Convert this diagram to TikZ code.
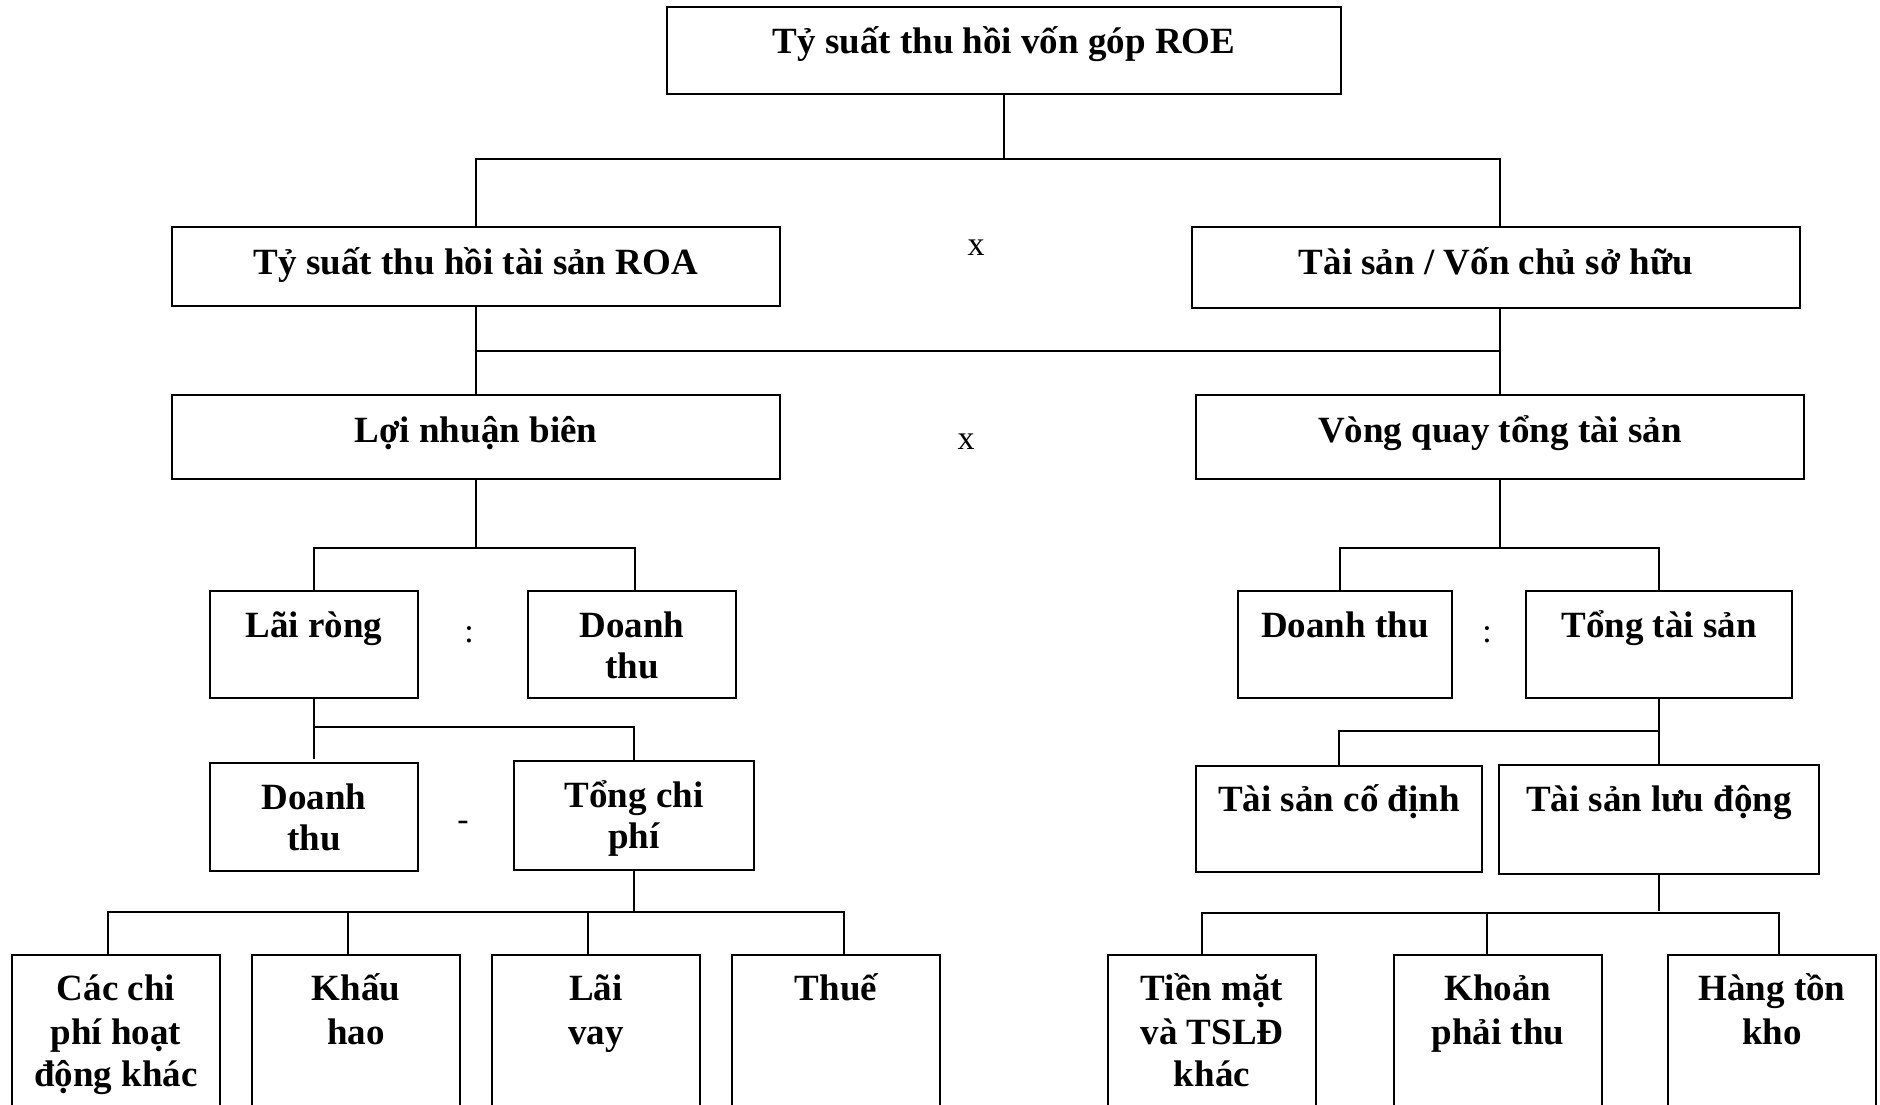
\documentclass[tikz,border=0pt]{standalone}
\usepackage{fontspec}
\setmainfont{Liberation Serif}
\newcommand\bx[5]{\node[box, anchor=north west, minimum width={#4-#2}, minimum height={#5-#3}] (#1) at (#2,#3) {};}
\begin{document}
\begin{tikzpicture}[x=1pt,y=-1pt,
  box/.style={draw, line width=2.2pt, inner sep=0pt, outer sep=0pt},
  conn/.style={line width=2pt},
  txt/.style={inner sep=0pt, anchor=base, font=\fontsize{37}{38}\selectfont\bfseries},
  op/.style={inner sep=0pt, font=\fontsize{34}{36}\selectfont}]
\useasboundingbox[fill=white] (0,0) rectangle (1880,1105);
\clip (0,0) rectangle (1880,1105);
% boxes
\bx{roe}{667}{7}{1341}{94}
\bx{roa}{172}{227}{780}{306}
\bx{tsv}{1192}{227}{1800}{308}
\bx{lnb}{172}{395}{780}{479}
\bx{vq}{1196}{395}{1804}{479}
\bx{lr}{210}{591}{418}{698}
\bx{dta}{528}{591}{736}{698}
\bx{dtb}{210}{763}{418}{871}
\bx{tcp}{514}{761}{754}{870}
\bx{cp}{12}{955}{220}{1125}
\bx{kh}{252}{955}{460}{1125}
\bx{lv}{492}{955}{700}{1125}
\bx{thue}{732}{955}{940}{1125}
\bx{dtc}{1238}{591}{1452}{698}
\bx{tts}{1526}{591}{1792}{698}
\bx{tscd}{1196}{766}{1482}{872}
\bx{tsld}{1499}{765}{1819}{874}
\bx{tm}{1108}{955}{1316}{1125}
\bx{kpt}{1394}{955}{1602}{1125}
\bx{htk}{1668}{955}{1876}{1125}
% texts
\node[txt] (roe-t) at (roe.north |- 0,54) {Tỷ suất thu hồi vốn góp ROE};
\node[txt] (roa-t) at (roa.north |- 0,274) {Tỷ suất thu hồi tài sản ROA};
\node[txt] (tsv-t) at (tsv.north |- 0,274) {Tài sản / Vốn chủ sở hữu};
\node[txt] (lnb-t) at (lnb.north |- 0,442) {Lợi nhuận biên};
\node[txt] (vq-t) at (vq.north |- 0,442) {Vòng quay tổng tài sản};
\node[txt] (lr-t) at (lr.north |- 0,637) {Lãi ròng};
\node[txt] (dta-t1) at (dta.north |- 0,637) {Doanh};
\node[txt] (dta-t2) at (dta.north |- 0,678) {thu};
\node[txt] (dtb-t1) at (dtb.north |- 0,809) {Doanh};
\node[txt] (dtb-t2) at (dtb.north |- 0,850) {thu};
\node[txt] (tcp-t1) at (tcp.north |- 0,807) {Tổng chi};
\node[txt] (tcp-t2) at (tcp.north |- 0,848) {phí};
\node[txt] (cp-t1) at (cp.north |- 0,1000) {Các chi};
\node[txt] (cp-t2) at (cp.north |- 0,1044) {phí hoạt};
\node[txt] (cp-t3) at (cp.north |- 0,1086) {động khác};
\node[txt] (kh-t1) at (kh.north |- 0,1000) {Khấu};
\node[txt] (kh-t2) at (kh.north |- 0,1044) {hao};
\node[txt] (lv-t1) at (lv.north |- 0,1000) {Lãi};
\node[txt] (lv-t2) at (lv.north |- 0,1044) {vay};
\node[txt] (thue-t) at (thue.north |- 0,1000) {Thuế};
\node[txt] (dtc-t) at (dtc.north |- 0,637) {Doanh thu};
\node[txt] (tts-t) at (tts.north |- 0,637) {Tổng tài sản};
\node[txt] (tscd-t) at (tscd.north |- 0,811) {Tài sản cố định};
\node[txt] (tsld-t) at (tsld.north |- 0,811) {Tài sản lưu động};
\node[txt] (tm-t1) at (tm.north |- 0,1000) {Tiền mặt};
\node[txt] (tm-t2) at (tm.north |- 0,1044) {và TSLĐ};
\node[txt] (tm-t3) at (tm.north |- 0,1086) {khác};
\node[txt] (kpt-t1) at (kpt.north |- 0,1000) {Khoản};
\node[txt] (kpt-t2) at (kpt.north |- 0,1044) {phải thu};
\node[txt] (htk-t1) at (htk.north |- 0,1000) {Hàng tồn};
\node[txt] (htk-t2) at (htk.north |- 0,1044) {kho};
% operators
\node[op] (x1) at (976,248) {x};
\node[op] (x2) at (966,442) {x};
\node[op] (c1) at (469,635) {:};
\node[op] (c2) at (1487,635) {:};
\node[op] (m1) at (463,826) {-};
% connectors
\coordinate (j1) at (roe.south |- 0,159);
\draw[conn] (roe.south) -- (j1) -| (roa.north);
\draw[conn] (j1) -| ([xshift=4pt]tsv.north);
\coordinate (j2) at (roa.south |- 0,351);
\draw[conn] (roa.south) -- (lnb.north);
\draw[conn] ([xshift=4pt]tsv.south) -- (vq.north);
\draw[conn] (j2) -- (j2 -| vq.north);
\coordinate (j3) at (lnb.south |- 0,548);
\draw[conn] (lnb.south) -- (j3) -| (lr.north);
\draw[conn] (j3) -| ([xshift=3pt]dta.north);
\coordinate (j4) at (lr.south |- 0,727);
\draw[conn] (lr.south) -- ([yshift=4pt]dtb.north);
\draw[conn] (j4) -| (tcp.north);
\coordinate (j5) at (tcp.south |- 0,912);
\draw[conn] (tcp.south) -- (j5);
\draw[conn] (j5) -| ([xshift=-8pt]cp.north);
\draw[conn] (j5) -| ([xshift=-8pt]kh.north);
\draw[conn] (j5) -| ([xshift=-8pt]lv.north);
\draw[conn] (j5) -| ([xshift=8pt]thue.north);
\coordinate (j6) at (vq.south |- 0,548);
\draw[conn] (vq.south) -- (j6) -| ([xshift=-5pt]dtc.north);
\draw[conn] (j6) -| (tts.north);
\coordinate (j7) at (tts.south |- 0,731);
\draw[conn] (tts.south) -- (j7 |- tsld.north);
\draw[conn] (j7) -| (tscd.north);
\coordinate (j8) at (tsld.south |- 0,913);
\draw[conn] (tsld.south) -- ([yshift=2pt]j8);
\draw[conn] (j8) -| ([xshift=-10pt]tm.north);
\draw[conn] (j8) -| ([xshift=-11pt]kpt.north);
\draw[conn] (j8) -| ([xshift=7pt]htk.north);
\end{tikzpicture}
\end{document}
